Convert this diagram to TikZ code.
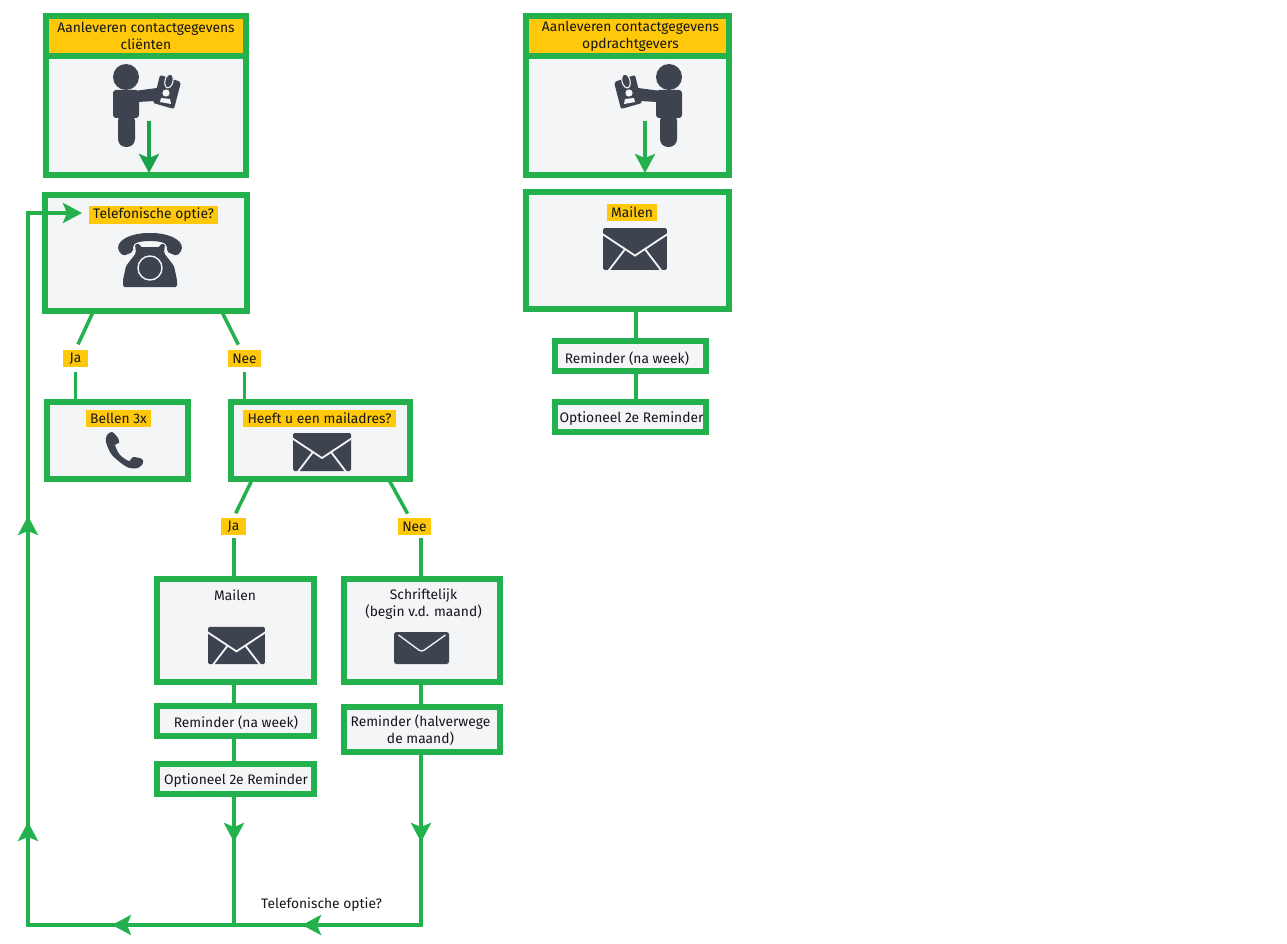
\documentclass[tikz,border=0pt]{standalone}
\usepackage{fontspec}
\setmainfont{Fira Sans}
\usetikzlibrary{arrows.meta,calc}
\definecolor{gr}{RGB}{34,177,76}
\definecolor{grd}{RGB}{22,163,74}
\definecolor{yl}{RGB}{255,200,10}
\definecolor{bgc}{RGB}{244,245,247}
\definecolor{dk}{RGB}{61,68,80}
\definecolor{tx}{RGB}{20,22,26}
\tikzset{
  x=1pt,y=-1pt,
  txtfont/.style={font=\fontsize{13.8}{17}\selectfont,text=tx},
  box/.style={draw=gr,fill=bgc,line width=5.5pt,inner sep=0pt,outer sep=0pt},
  headbox/.style={box,fill=yl,inner sep=0pt,align=center,txtfont},
  lab/.style={fill=yl,inner sep=0pt,minimum height=17pt,txtfont},
  plain/.style={inner sep=0pt,align=center,txtfont,yshift=-1.2pt},
  flow/.style={draw=gr,line width=3.5pt},
  tipped/.style={flow,-{Stealth[length=19pt,width=20pt,inset=4pt]}},
  tippeddk/.style={draw=grd,line width=3.5pt,-{Stealth[length=19pt,width=20pt,inset=4pt]}},
  person/.pic={
    \fill[dk] (0,0) circle[radius=13];
    \fill[dk,rounded corners=3pt] (-13,13) rectangle (13,41);
    \fill[dk] (12,13.5) -- (31,11) -- (29,24) -- (12,25) -- cycle;
    \fill[dk,rounded corners=8pt] (-8,36) -- (9,36) -- (9,70) -- (-8,70) -- cycle;
    \fill[dk,rounded corners=2pt] (34,-2) -- (55,5) -- (48,32) -- (27,26) -- cycle;
    \fill[bgc] (40,16) circle[radius=3.6];
    \fill[bgc] (34,25) -- (35,21) -- (44,22) -- (45,27) -- cycle;
    \draw[bgc,fill=dk,line width=1.1pt,rotate around={-14:(43,4)}] (43,4) ellipse[x radius=4,y radius=7];
  },
  phoneicon/.pic={
    \fill[dk,rounded corners=2pt] (-32,-18) .. controls (-32,-30) and (-15,-35) .. (0,-35)
      .. controls (15,-35) and (32,-30) .. (32,-18) -- (27,-12) -- (17,-16) -- (17,-23)
      .. controls (10,-28) and (-10,-28) .. (-17,-23) -- (-17,-16) -- (-27,-12) -- cycle;
    \fill[dk,rounded corners=1.5pt] (-15,-24) -- (-10,-24) -- (-10,-21) -- (10,-21) -- (10,-24) -- (15,-24)
      -- (14,-15) -- (24,-2) -- (27,12) -- (27,19) -- (-27,19) -- (-27,12) -- (-24,-2) -- (-14,-15) -- cycle;
    \draw[bgc,line width=1.4pt,fill=dk] (0,0) circle[radius=12];
  },
  envflap/.pic={
    \fill[dk,rounded corners=1.5pt] (-29,-19) rectangle (29,19);
    \draw[bgc,line width=1.8pt] (-31,-14.5) -- (0,6) -- (31,-14.5);
    \draw[bgc,line width=1.8pt] (-25,21) -- (-9,0);
    \draw[bgc,line width=1.8pt] (25,21) -- (9,0);
  },
  envplain/.pic={
    \fill[dk,rounded corners=2.5pt] (-27.5,-16) rectangle (27.5,16);
    \draw[bgc,line width=1.3pt,rounded corners=3pt] (-23,-13) -- (0,4) -- (24,-13);
  },
  handset/.pic={
    \fill[dk] plot[smooth cycle,tension=.5] coordinates {(112,432) (118,438) (119,443) (115,445) (120,455) (129,461) (133,457) (142,459) (143,463) (138,468) (127,467) (112,455) (106,442) (107,435)};
  }
}
\begin{document}
\begin{tikzpicture}
\useasboundingbox (0,0) rectangle (1287,944);
% left column
\node[box,minimum width=200pt,minimum height=119pt] (abody) at (146,115.5) {};
\node[headbox,minimum width=200pt,minimum height=40pt] (ahead) at (146,36) {Aanleveren contactgegevens\\cliënten};
\pic at (126,77) {person};
\node[box,minimum width=202pt,minimum height=116pt] (phone) at (146,253) {};
\node[lab,minimum width=129pt] (qphone) at (153.5,215) {Telefonische optie?};
\pic at (150,268) {phoneicon};
\node[lab,minimum width=25pt] (ja1) at (75.5,358.5) {Ja};
\node[lab,minimum width=33pt] (nee1) at (244.5,358.5) {Nee};
\node[box,minimum width=141pt,minimum height=77pt] (bellen) at (117.5,440.5) {};
\node[lab,minimum width=65pt] (qbellen) at (118.5,418.5) {Bellen 3x};
\pic at (0,0) {handset};
\node[box,minimum width=179pt,minimum height=77pt] (heeft) at (320.5,440.5) {};
\node[lab,minimum width=153pt] (qheeft) at (319.5,418.5) {Heeft u een mailadres?};
\pic at (322,452) {envflap};
\node[lab,minimum width=25pt] (ja2) at (233.5,526.5) {Ja};
\node[lab,minimum width=33pt] (nee2) at (414.5,526.5) {Nee};
\node[box,minimum width=157pt,minimum height=103pt] (mail) at (235.5,630.5) {};
\node[plain] (tmail) at (235,594) {Mailen};
\pic[scale=.98] at (236.5,645.5) {envflap};
\node[box,minimum width=156pt,minimum height=103pt] (schrift) at (422,630.5) {};
\node[plain] (tschrift) at (423.5,603) {Schriftelijk\\(begin v.d. maand)};
\pic at (421.5,648) {envplain};
\node[box,minimum width=157pt,minimum height=30pt] (rem1) at (235.5,721) {};
\node[plain] (trem1) at (236,721) {Reminder (na week)};
\node[box,minimum width=157pt,minimum height=30pt] (opt1) at (235.5,779) {};
\node[plain] (topt1) at (236,779) {Optioneel 2e Reminder};
\node[box,minimum width=156pt,minimum height=45pt] (rem2) at (422,729.5) {};
\node[plain] (trem2) at (420.5,728.5) {Reminder (halverwege\\de maand)};
\node[plain] (tbottom) at (321.5,903) {Telefonische optie?};
% right column
\node[box,minimum width=203pt,minimum height=119pt] (bbody) at (627.5,115.5) {};
\node[headbox,minimum width=203pt,minimum height=40pt] (bhead) at (627.5,36) {\hspace*{6pt}Aanleveren contactgegevens\\\hspace*{6pt}opdrachtgevers};
\pic[xscale=-1] at (669,77) {person};
\node[box,minimum width=203pt,minimum height=117pt] (mail2) at (627.5,250.5) {};
\node[lab,minimum width=50pt] (qmail2) at (632,212.5) {Mailen};
\pic[scale=1.1] at (635,249) {envflap};
\node[box,minimum width=151pt,minimum height=30pt] (rem3) at (630.5,356) {};
\node[plain] (trem3) at (627,357) {Reminder (na week)};
\node[box,minimum width=151pt,minimum height=30pt] (opt2) at (630.5,417) {};
\node[plain] (topt2) at (631.5,417) {Optioneel 2e Reminder};
% connectors
\draw[tippeddk] (149,121) -- (149,173);
\draw[tipped] (645,121) -- (645,173);
\draw[flow,shorten >=6pt] (93,312) -- (ja1.north);
\draw[flow,shorten >=6pt] (222,312) -- (241,350);
\draw[flow,shorten <=5pt] (ja1.south) -- (bellen.north -| ja1);
\draw[flow,shorten <=5pt] (nee1.south) -- (heeft.north -| nee1);
\draw[flow,shorten >=5pt] (252,480) -- (ja2.north);
\draw[flow,shorten >=5pt] (389,480) -- (410,518);
\draw[flow,shorten <=3pt] (234,535) -- (mail.north -| 234,0);
\draw[flow,shorten <=3pt] (421,535) -- (schrift.north -| 421,0);
\draw[flow] (mail.south -| 234,0) -- (rem1.north -| 234,0);
\draw[flow] (rem1.south -| 234,0) -- (opt1.north -| 234,0);
\draw[flow] (schrift.south -| 421,0) -- (rem2.north -| 421,0);
\draw[flow] (mail2.south -| 636,0) -- (rem3.north -| 636,0);
\draw[flow] (rem3.south -| 636,0) -- (opt2.north -| 636,0);
\coordinate (cr) at (421,925);
\coordinate (cm) at (234,925);
\coordinate (cl) at (28,925);
\coordinate (ct) at (28,213);
\draw[tipped] (opt1.south -| 234,0) -- (234,842);
\draw[flow] (234,825) -- (cm);
\draw[tipped] (rem2.south -| 421,0) -- (421,842);
\draw[flow,line cap=rect] (421,825) -- (cr);
\draw[tipped] (cr) -- (302,925);
\draw[flow] (320,925) -- (cm);
\draw[tipped] (cm) -- (112,925);
\draw[flow] (130,925) -- (cl);
\draw[flow,line cap=rect] (cl) -- (28,840);
\draw[tipped] (28,850) -- (28,822);
\draw[tipped] (28,840) -- (28,516);
\draw[flow] (28,534) -- (ct);
\draw[flow,line cap=rect] (ct) -- (66,213);
\draw[tipped] (50,213) -- (82,213);
\end{tikzpicture}
\end{document}
